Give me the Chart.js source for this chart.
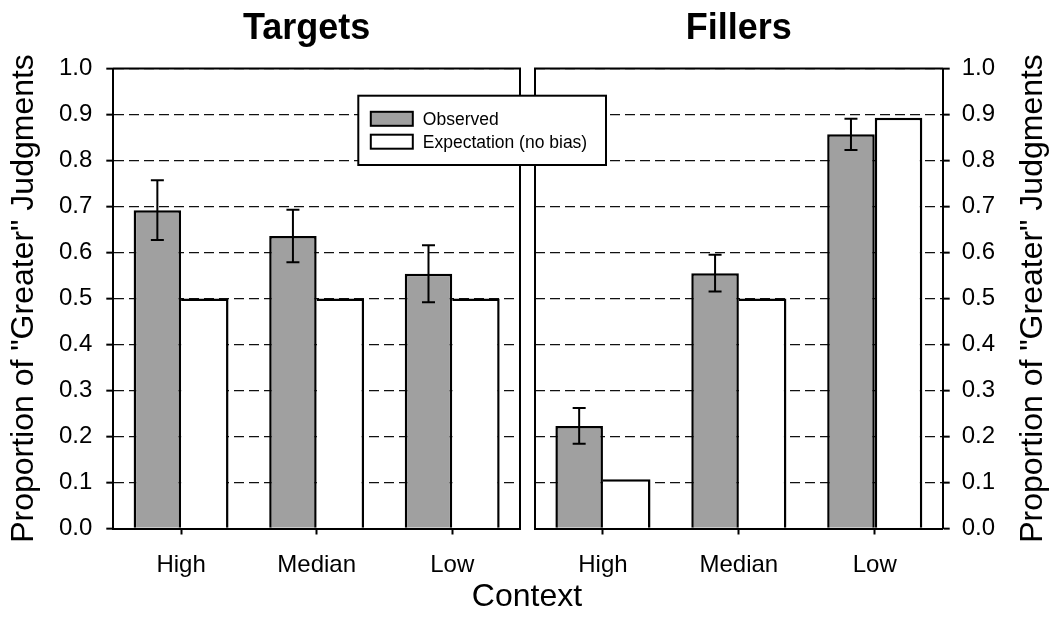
<!DOCTYPE html>
<html>
<head>
<meta charset="utf-8">
<script src="https://cdn.jsdelivr.net/npm/chart.js@4/dist/chart.umd.min.js"></script>
<style>
  html, body { margin: 0; padding: 0; background: #fff; }
  #wrap { position: relative; width: 1053px; height: 630px; }
  #wrap canvas { position: absolute; left: 0; top: 0; }
</style>
</head>
<body>
<div id="wrap">
  <canvas id="targets" width="1053" height="630"></canvas>
  <canvas id="fillers" width="1053" height="630"></canvas>
</div>
<script>
// Context conditions shown on both panels
const contexts = ['High', 'Median', 'Low'];
const seriesNames = ['Observed', 'Expectation (no bias)'];

// Targets panel
const targetsObserved = [0.692, 0.636, 0.554];
const targetsObservedErr = [0.065, 0.057, 0.062];
const targetsExpected = [0.5, 0.5, 0.5];

// Fillers panel
const fillersObserved = [0.223, 0.555, 0.857];
const fillersObservedErr = [0.039, 0.040, 0.034];
const fillersExpected = [0.107, 0.5, 0.893];

// Y axis tick values (proportion)
const yTickValues = [0.0, 0.1, 0.2, 0.3, 0.4, 0.5, 0.6, 0.7, 0.8, 0.9, 1.0];

const yTitle = 'Proportion of "Greater" Judgments';
const xTitle = 'Context';

const FONT = "'Liberation Sans', Arial, Helvetica, sans-serif";
Chart.defaults.font.family = FONT;
Chart.defaults.color = '#000';

const GREY = '#a0a0a0';

// Whiskers for datasets that carry an `errors` array
const errorBars = {
  id: 'errorBars',
  afterDatasetsDraw(chart) {
    const { ctx } = chart;
    const y = chart.scales.y;
    chart.data.datasets.forEach((ds, di) => {
      if (!ds.errors) return;
      const meta = chart.getDatasetMeta(di);
      ctx.save();
      ctx.strokeStyle = '#000';
      ctx.lineWidth = 2;
      meta.data.forEach((bar, i) => {
        const v = ds.data[i], e = ds.errors[i];
        const top = y.getPixelForValue(v + e);
        const bot = y.getPixelForValue(v - e);
        const x = bar.x, w = 6.5;
        ctx.beginPath();
        ctx.moveTo(x, top); ctx.lineTo(x, bot);
        ctx.moveTo(x - w, top); ctx.lineTo(x + w, top);
        ctx.moveTo(x - w, bot); ctx.lineTo(x + w, bot);
        ctx.stroke();
      });
      ctx.restore();
    });
  }
};

// Closes the plot box: top edge plus the side without an axis
const panelFrame = {
  id: 'panelFrame',
  afterDatasetsDraw(chart, args, opts) {
    const { ctx, chartArea: a } = chart;
    ctx.save();
    ctx.strokeStyle = '#000';
    ctx.lineWidth = 2;
    ctx.beginPath();
    ctx.moveTo(a.left - 1, a.top); ctx.lineTo(a.right + 1, a.top);
    const x = opts.side === 'right' ? a.right : a.left;
    ctx.moveTo(x, a.top); ctx.lineTo(x, a.bottom);
    ctx.stroke();
    ctx.restore();
  }
};

// Bold heading above each panel
const panelHeading = {
  id: 'panelHeading',
  afterDraw(chart, args, opts) {
    const { ctx, chartArea: a } = chart;
    ctx.save();
    ctx.font = `bold 36px ${FONT}`;
    ctx.fillStyle = '#000';
    ctx.textAlign = 'center';
    ctx.textBaseline = 'alphabetic';
    ctx.fillText(opts.text, (a.left + a.right) / 2 + (opts.dx || 0), 39);
    ctx.restore();
  }
};

// Boxed legend, shared x title and right-hand y title (drawn on the top canvas)
const sharedLabels = {
  id: 'sharedLabels',
  afterDraw(chart, args, o) {
    const { ctx } = chart;
    ctx.save();
    // legend box
    const L = o.legend;
    ctx.fillStyle = '#fff';
    ctx.strokeStyle = '#000';
    ctx.lineWidth = 2;
    ctx.fillRect(L.left, L.top, L.width, L.height);
    ctx.strokeRect(L.left, L.top, L.width, L.height);
    chart.data.datasets.forEach((ds, i) => {
      const cy = L.top + L.firstRow + i * L.rowGap;
      ctx.fillStyle = ds.backgroundColor;
      ctx.fillRect(L.left + 12.5, cy - 7, 42, 14);
      ctx.strokeRect(L.left + 12.5, cy - 7, 42, 14);
      ctx.fillStyle = '#000';
      ctx.font = `17.5px ${FONT}`;
      ctx.textAlign = 'left';
      ctx.textBaseline = 'middle';
      ctx.fillText(ds.label, L.left + 64.5, cy + 1);
    });
    // x axis title
    ctx.fillStyle = '#000';
    ctx.font = `32px ${FONT}`;
    ctx.textAlign = 'center';
    ctx.textBaseline = 'middle';
    ctx.fillText(o.xTitle, o.xTitleX, o.xTitleY);
    // right y title, reading upward
    ctx.translate(o.yTitleX, (chart.chartArea.top + chart.chartArea.bottom) / 2);
    ctx.rotate(-Math.PI / 2);
    ctx.font = `32px ${FONT}`;
    ctx.fillText(o.yTitle, 0, 0);
    ctx.restore();
  }
};

function yScale(side) {
  return {
    position: side,
    min: 0,
    max: 1,
    afterBuildTicks: s => { s.ticks = yTickValues.map(v => ({ value: v })); },
    afterFit: s => { s.width = side === 'left' ? 113.3 : 110.3; },
    grid: { color: '#111', lineWidth: 1.3, tickLength: 7, tickWidth: 2, tickColor: '#000' },
    border: { display: true, color: '#000', width: 2, dash: [10, 5] },
    ticks: {
      font: { size: 24 },
      padding: side === 'left' ? 14 : 12,
      color: '#000',
      callback: v => Number(v).toFixed(1)
    },
    title: side === 'left'
      ? { display: true, text: yTitle, font: { size: 32 }, padding: { top: 5 }, color: '#000' }
      : { display: false }
  };
}

const xScale = {
  afterFit: s => { s.height = 101.5; },
  grid: { display: true, drawOnChartArea: false, offset: false, tickLength: 6, tickWidth: 2, tickColor: '#000' },
  border: { display: true, color: '#000', width: 2 },
  ticks: { font: { size: 24 }, padding: 16, color: '#000' }
};

function datasets(observed, errors, expected) {
  return [
    {
      label: seriesNames[0],
      data: observed,
      errors: errors,
      backgroundColor: GREY,
      borderColor: '#000',
      borderWidth: 2.5,
      categoryPercentage: 0.70,
      barPercentage: 1.0
    },
    {
      label: seriesNames[1],
      data: expected,
      backgroundColor: '#fff',
      borderColor: '#000',
      borderWidth: ctx => ({
        top: 2.5, right: 2.5, bottom: 0,
        left: expected[ctx.dataIndex] > observed[ctx.dataIndex] ? 2.5 : 0
      }),
      categoryPercentage: 0.70,
      barPercentage: 1.0
    }
  ];
}

const common = {
  responsive: false,
  animation: false,
  events: [],
};

new Chart(document.getElementById('targets'), {
  type: 'bar',
  data: { labels: contexts, datasets: datasets(targetsObserved, targetsObservedErr, targetsExpected) },
  options: {
    ...common,
    layout: { padding: { left: 0, right: 533, top: 68.5, bottom: 0 } },
    plugins: {
      legend: { display: false },
      tooltip: { enabled: false },
      panelFrame: { side: 'right' },
      panelHeading: { text: 'Targets', dx: -10 }
    },
    scales: { x: xScale, y: yScale('left') }
  },
  plugins: [errorBars, panelFrame, panelHeading]
});

new Chart(document.getElementById('fillers'), {
  type: 'bar',
  data: { labels: contexts, datasets: datasets(fillersObserved, fillersObservedErr, fillersExpected) },
  options: {
    ...common,
    layout: { padding: { left: 535, right: 0, top: 68.5, bottom: 0 } },
    plugins: {
      legend: { display: false },
      tooltip: { enabled: false },
      panelFrame: { side: 'left' },
      panelHeading: { text: 'Fillers', dx: 0 },
      sharedLabels: {
        legend: { left: 358.3, top: 95.7, width: 247.7, height: 69.3, firstRow: 23.1, rowGap: 22.9 },
        xTitle: xTitle, xTitleX: 527, xTitleY: 597,
        yTitle: yTitle, yTitleX: 1033
      }
    },
    scales: { x: xScale, y: yScale('right') }
  },
  plugins: [errorBars, panelFrame, panelHeading, sharedLabels]
});
</script>
</body>
</html>
